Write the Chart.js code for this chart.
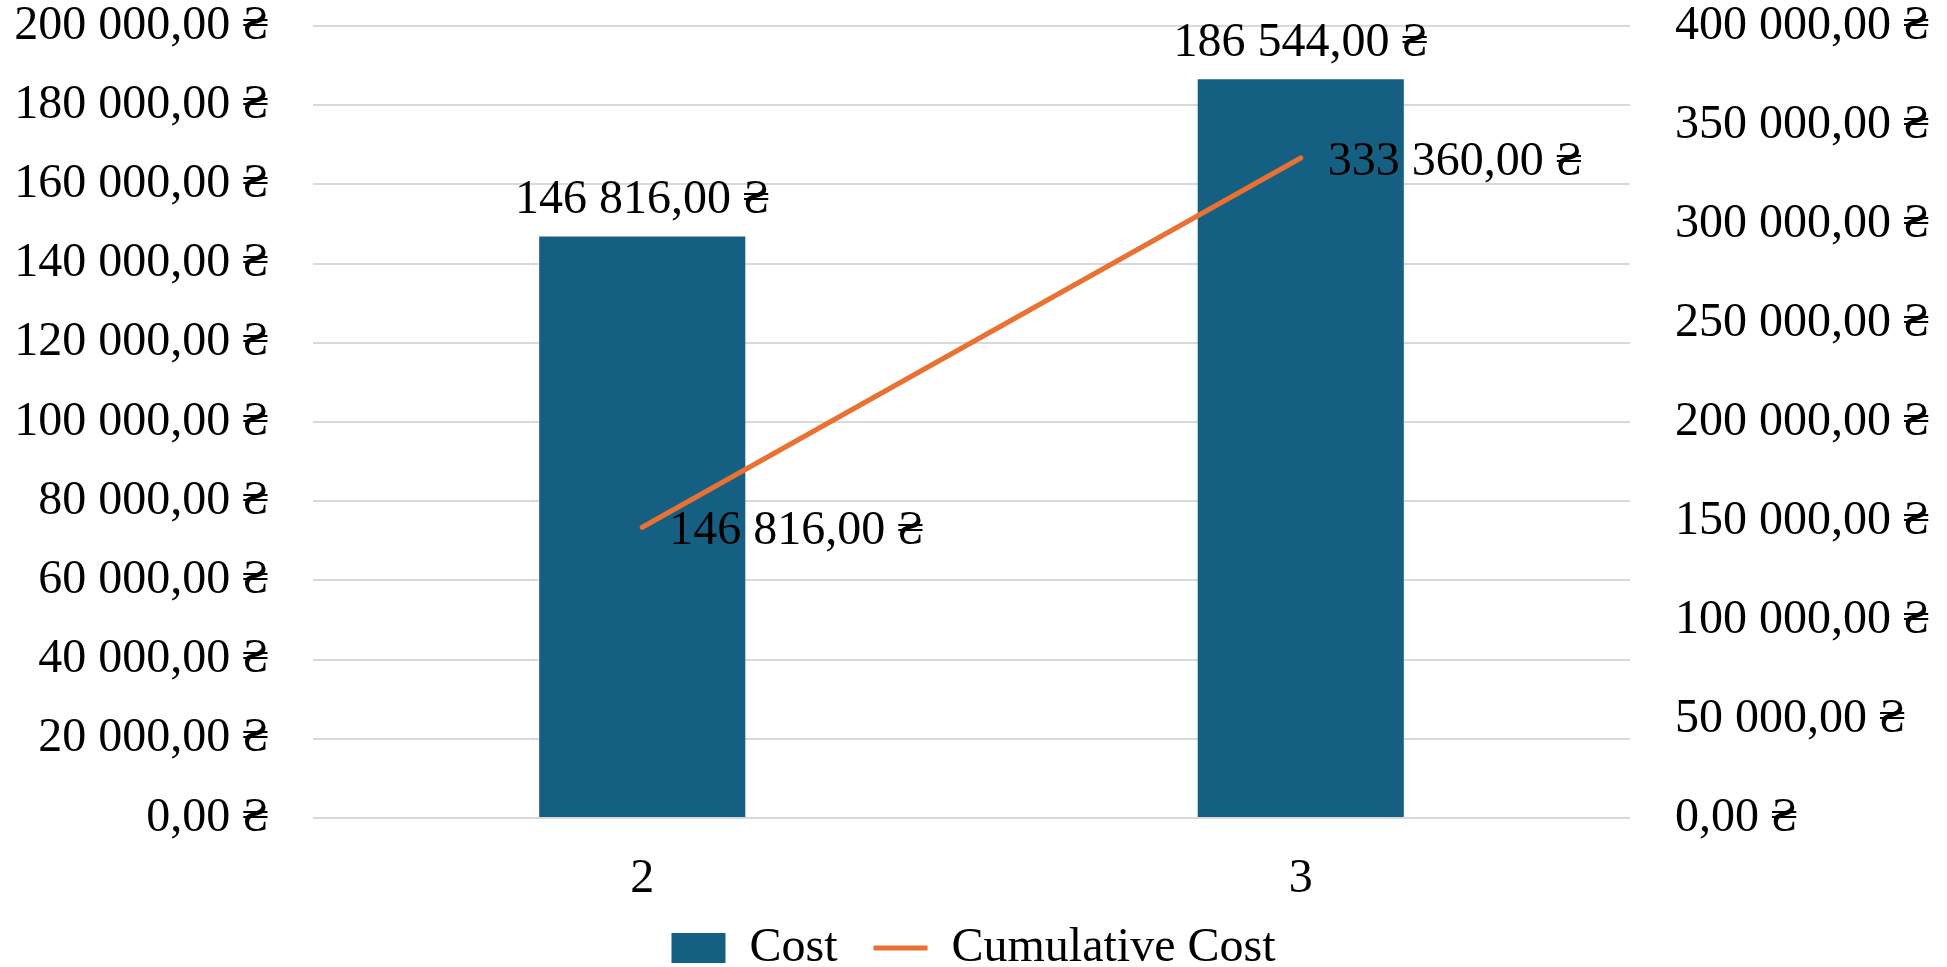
<!DOCTYPE html>
<html>
<head>
<meta charset="utf-8">
<script src="https://cdn.jsdelivr.net/npm/chart.js@4.4.1/dist/chart.umd.min.js"></script>
<style>
  html, body { margin: 0; padding: 0; background: #fff; overflow: hidden; }
  #wrap { width: 1947px; height: 982px; }
</style>
</head>
<body>
<div id="wrap"><canvas id="costChart"></canvas></div>
<script>
const categories = ['2', '3'];
const costValues = [146816, 186544];
const cumulativeValues = [146816, 333360];
const leftTicks = { min: 0, max: 200000, step: 20000 };
const rightTicks = { min: 0, max: 400000, step: 50000 };

function uah(v) {
    const parts = Number(v).toFixed(2).split('.');
    const intPart = parts[0].replace(/\B(?=(\d{3})+(?!\d))/g, ' ');
    return intPart + ',' + parts[1] + ' \u20B4';
}

const FONT = "'Liberation Serif', 'Times New Roman', serif";
Chart.defaults.font.family = FONT;
Chart.defaults.color = '#000';

// draws the value labels (bars above, line to the right)
const valueLabels = {
    id: 'valueLabels',
    afterDatasetsDraw(chart) {
        const ctx = chart.ctx;
        ctx.save();
        ctx.font = '48px ' + FONT;
        ctx.fillStyle = '#000';
        ctx.textBaseline = 'middle';
        chart.getDatasetMeta(0).data.forEach((bar, i) => {
            ctx.textAlign = 'center';
            ctx.fillText(uah(costValues[i]), bar.x, bar.y - 36);
        });
        chart.getDatasetMeta(1).data.forEach((pt, i) => {
            ctx.textAlign = 'left';
            ctx.fillText(uah(cumulativeValues[i]), pt.x + 27, pt.y + 4);
        });
        ctx.restore();
    }
};

const ctx = document.getElementById('costChart').getContext('2d');
const costChart = new Chart(ctx, {
    type: 'bar',
    data: {
        labels: categories,
        datasets: [{
            label: 'Cost',
            data: costValues,
            backgroundColor: '#156082',
            borderWidth: 0,
            barPercentage: 0.313,
            categoryPercentage: 1,
            yAxisID: 'y',
            pointStyle: 'rect',
            order: 2
        }, {
            type: 'line',
            label: 'Cumulative Cost',
            data: cumulativeValues,
            borderColor: '#E97132',
            backgroundColor: '#E97132',
            borderWidth: 5,
            borderCapStyle: 'round',
            pointRadius: 0,
            fill: false,
            yAxisID: 'y1',
            pointStyle: 'line',
            order: 1
        }]
    },
    options: {
        responsive: true,
        maintainAspectRatio: false,
        animation: false,
        layout: { padding: 0 },
        plugins: {
            tooltip: { enabled: false },
            legend: {
                position: 'bottom',
                labels: {
                    font: { size: 48 },
                    color: '#000',
                    usePointStyle: true,
                    pointStyleWidth: 54,
                    boxHeight: 30,
                    padding: 0,
                    sort: (a, b) => a.datasetIndex - b.datasetIndex,
                    // a little room after "Cost" like the original legend
                    generateLabels(chart) {
                        const items = Chart.defaults.plugins.legend.labels.generateLabels(chart);
                        items.forEach(it => { if (it.datasetIndex === 0) it.text = it.text + '   '; });
                        return items;
                    }
                }
            }
        },
        scales: {
            x: {
                grid: { display: false },
                border: { display: false },
                ticks: { font: { size: 48 }, padding: 25 },
                afterFit(scale) { scale.height = 106; }
            },
            y: {
                position: 'left',
                min: leftTicks.min,
                max: leftTicks.max,
                ticks: {
                    stepSize: leftTicks.step,
                    font: { size: 48, lineHeight: 1 },
                    padding: 2,
                    callback: v => uah(v)
                },
                grid: { color: '#d9d9d9', lineWidth: 2, tickLength: 42, tickColor: 'rgba(0,0,0,0)' },
                border: { display: false },
                afterFit(scale) { scale.width = 313; }
            },
            y1: {
                position: 'right',
                min: rightTicks.min,
                max: rightTicks.max,
                ticks: {
                    stepSize: rightTicks.step,
                    font: { size: 48, lineHeight: 1 },
                    padding: 2,
                    callback: v => uah(v)
                },
                grid: { drawOnChartArea: false, tickLength: 43, tickColor: 'rgba(0,0,0,0)' },
                border: { display: false },
                afterFit(scale) { scale.width = 317; }
            }
        }
    },
    plugins: [valueLabels]
});
</script>
</body>
</html>
